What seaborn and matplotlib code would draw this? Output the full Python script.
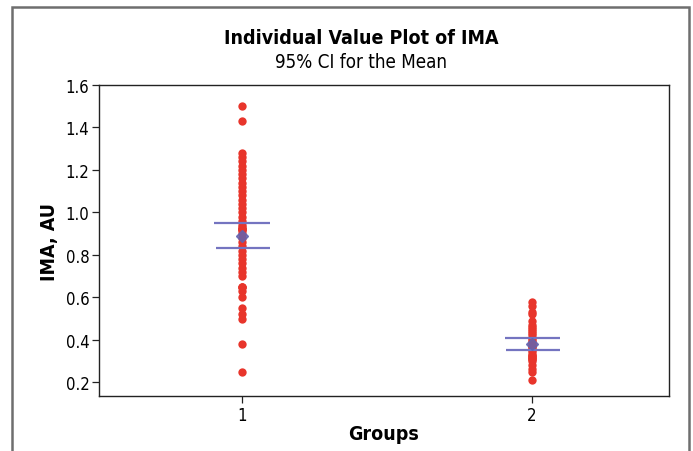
import numpy as np
import pandas as pd
import seaborn as sns
import matplotlib.pyplot as plt
from matplotlib.patches import Rectangle

groups = ['1', '2']
g1 = [1.50, 1.43, 1.28, 1.26, 1.24, 1.22, 1.20, 1.18, 1.16, 1.14, 1.12, 1.10,
      1.08, 1.06, 1.04, 1.02, 1.00, 0.98, 0.96, 0.94, 0.93, 0.92, 0.92, 0.92,
      0.91, 0.90, 0.88, 0.86, 0.84, 0.82, 0.80, 0.78, 0.76, 0.74, 0.72, 0.70,
      0.65, 0.65, 0.65, 0.63, 0.60, 0.55, 0.52, 0.50, 0.38, 0.25]
g2 = [0.58, 0.56, 0.53, 0.52, 0.49, 0.47, 0.46, 0.45, 0.44, 0.43, 0.42, 0.41,
      0.40, 0.39, 0.38, 0.37, 0.37, 0.36, 0.35, 0.34, 0.33, 0.33, 0.32, 0.32,
      0.31, 0.31, 0.30, 0.28, 0.26, 0.25, 0.21]
means = [0.89, 0.38]
ci_low = [0.83, 0.35]
ci_high = [0.95, 0.41]
yticks = [0.2, 0.4, 0.6, 0.8, 1.0, 1.2, 1.4, 1.6]

df = pd.DataFrame({'Groups': ['1'] * len(g1) + ['2'] * len(g2),
                   'IMA': g1 + g2})

sns.set_style('ticks')
plt.rcParams['font.family'] = ['DejaVu Sans']
plt.rcParams['font.stretch'] = 'condensed'
plt.rcParams['text.color'] = 'black'
plt.rcParams['axes.labelcolor'] = 'black'
plt.rcParams['xtick.color'] = 'black'
plt.rcParams['ytick.color'] = 'black'

fig = plt.figure(figsize=(6.93, 4.52), dpi=100)
ax = fig.add_axes([0.1429, 0.1217, 0.8225, 0.688])

sns.stripplot(data=df, x='Groups', y='IMA', order=groups, jitter=False,
              color='#e8352b', size=6, linewidth=0, ax=ax, zorder=3)

pos = np.arange(len(groups))
ax.hlines(ci_high, pos - 0.095, pos + 0.095, color='#7474c0', lw=1.6, zorder=4)
ax.hlines(ci_low, pos - 0.09, pos + 0.095, color='#7474c0', lw=1.6, zorder=4)
ax.plot(pos, means, 'D', color='#6262b0', ms=6, alpha=0.85, zorder=5)

ax.set_xlim(-0.493, 1.472)
ax.set_ylim(0.135, 1.6)
ax.set_yticks(yticks)
ax.set_yticklabels([f'{t:.1f}' for t in yticks])
for s in ax.spines.values():
    s.set_visible(True)
    s.set_color('#222222')
    s.set_linewidth(1.0)
ax.tick_params(labelsize=12, length=5, width=0.9, color='#222222', pad=2)
ax.set_xlabel('Groups', fontsize=14, fontweight='bold', labelpad=0)
ax.set_ylabel('IMA, AU', fontsize=14, fontweight='bold', labelpad=5)

fig.text(0.521, 0.915, 'Individual Value Plot of IMA', ha='center', va='center',
         fontsize=14, fontweight='bold')
fig.text(0.521, 0.862, '95% CI for the Mean', ha='center', va='center',
         fontsize=13.5)

fig.patches.append(Rectangle((0.0173, -0.05), 0.9769, 1.0323, transform=fig.transFigure,
                             fill=False, edgecolor='#6e6e6e', lw=1.8))

fig.savefig('out.png', dpi=100)
